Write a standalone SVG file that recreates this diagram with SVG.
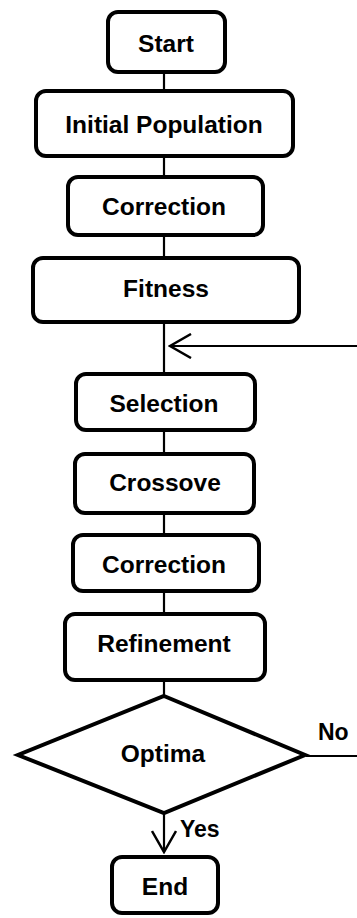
<svg xmlns="http://www.w3.org/2000/svg" width="357" height="918" viewBox="0 0 357 918">
<style>
.box{fill:#fff;stroke:#000;stroke-width:4}
.dec{fill:#fff;stroke:#000;stroke-width:4;stroke-linejoin:miter}
.lbl{font-family:"Liberation Sans",Arial,sans-serif;font-weight:bold;font-size:24.5px;fill:#000;text-anchor:middle}
.sm{font-family:"Liberation Sans",Arial,sans-serif;font-weight:bold;font-size:23px;fill:#000}
.ln{fill:none;stroke:#000;stroke-width:2.2}
</style>
<defs>
<marker id="open" viewBox="0 0 24 26" refX="22" refY="13" markerWidth="24" markerHeight="26" markerUnits="userSpaceOnUse" orient="auto">
<path d="M1 1 L22 13 L1 25" fill="none" stroke="#000" stroke-width="2.5"/>
</marker>
</defs>
<g id="connectors">
<line class="ln" x1="164" y1="74" x2="164" y2="90"/>
<line class="ln" x1="164" y1="158" x2="164" y2="176"/>
<line class="ln" x1="164" y1="237" x2="164" y2="257"/>
<line class="ln" x1="164" y1="324" x2="164" y2="373"/>
<line class="ln" x1="164" y1="432" x2="164" y2="453"/>
<line class="ln" x1="164" y1="515" x2="164" y2="534"/>
<line class="ln" x1="164" y1="593" x2="164" y2="613"/>
<line class="ln" x1="164" y1="682" x2="164" y2="696"/>
<path class="ln" d="M306 756 H359 V346 H170" marker-end="url(#open)"/>
<path class="ln" d="M164 813 V852" marker-end="url(#open)"/>
<text class="sm" x="318" y="740">No</text>
<text class="sm" x="180" y="837">Yes</text>
</g>
<g id="start"><rect class="box" x="108" y="12" width="117" height="60" rx="10"/><text class="lbl" x="166" y="52">Start</text></g>
<g id="initial"><rect class="box" x="36" y="91" width="257" height="65" rx="10"/><text class="lbl" x="164" y="133">Initial Population</text></g>
<g id="correction1"><rect class="box" x="68" y="177" width="195" height="58" rx="10"/><text class="lbl" x="164" y="215">Correction</text></g>
<g id="fitness"><rect class="box" x="33" y="258" width="266" height="64" rx="10"/><text class="lbl" x="166" y="297">Fitness</text></g>
<g id="selection"><rect class="box" x="76" y="374" width="179" height="56" rx="10"/><text class="lbl" x="164" y="412">Selection</text></g>
<g id="crossove"><rect class="box" x="75" y="454" width="179" height="59" rx="10"/><text class="lbl" x="165" y="491">Crossove</text></g>
<g id="correction2"><rect class="box" x="73" y="535" width="186" height="56" rx="10"/><text class="lbl" x="164" y="573">Correction</text></g>
<g id="refinement"><rect class="box" x="65" y="614" width="200" height="66" rx="10"/><text class="lbl" x="164" y="652">Refinement</text></g>
<g id="optima"><polygon class="dec" points="164,696 305,755 164,813 18,755"/><text class="lbl" x="163" y="762">Optima</text></g>
<g id="end"><rect class="box" x="112" y="857" width="106" height="56" rx="10"/><text class="lbl" x="165" y="895">End</text></g>
</svg>
